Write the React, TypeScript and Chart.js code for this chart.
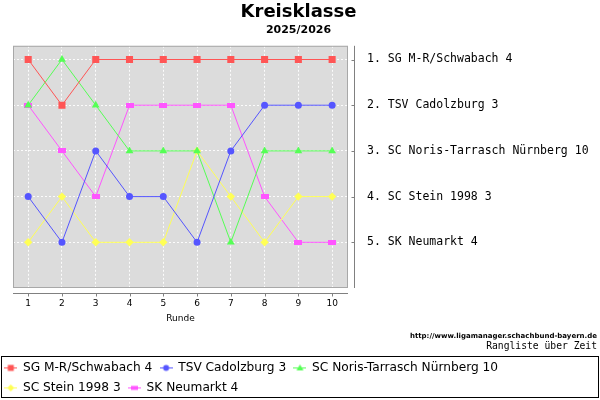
import { useEffect, useRef } from "react"
import { Chart, registerables } from "chart.js"

Chart.register(...registerables)

// Runden und Platzierungen pro Mannschaft
const rounds = [1, 2, 3, 4, 5, 6, 7, 8, 9, 10]
const teams = [
  "SG M-R/Schwabach 4",
  "TSV Cadolzburg 3",
  "SC Noris-Tarrasch Nürnberg 10",
  "SC Stein 1998 3",
  "SK Neumarkt 4",
]
const schwabach = [1, 2, 1, 1, 1, 1, 1, 1, 1, 1]
const cadolzburg = [4, 5, 3, 4, 4, 5, 3, 2, 2, 2]
const noris = [2, 1, 2, 3, 3, 3, 5, 3, 3, 3]
const stein = [5, 4, 5, 5, 5, 3, 4, 5, 4, 4]
const neumarkt = [2, 3, 4, 2, 2, 2, 2, 4, 5, 5]
const ranks = [schwabach, cadolzburg, noris, stein, neumarkt]

const colors = ["#ff5555", "#5555ff", "#55ff55", "#ffff55", "#ff55ff"]
const shapes = ["rect", "circle", "triangle", "rectRot", "flat"]
const radii = [5, 3.5, 4.5, 4.2, 4]

const SANS = "'DejaVu Sans', sans-serif"
const MONO = "'DejaVu Sans Mono', monospace"

function flatRect(color: string) {
  const c = document.createElement("canvas")
  c.width = 8
  c.height = 5
  const g = c.getContext("2d")!
  g.fillStyle = color
  g.fillRect(0, 0, 8, 5)
  return c
}

function legendIcon(color: string, shape: string) {
  const c = document.createElement("canvas")
  c.width = 13
  c.height = 9
  const g = c.getContext("2d")!
  g.fillStyle = color
  g.fillRect(0, 4, 13, 1)
  g.beginPath()
  if (shape === "rect") g.rect(3.5, 1.5, 6, 6)
  else if (shape === "circle") g.arc(6.5, 4.5, 3, 0, Math.PI * 2)
  else if (shape === "triangle") {
    g.moveTo(6.5, 1)
    g.lineTo(10, 7)
    g.lineTo(3, 7)
  } else if (shape === "rectRot") {
    g.moveTo(6.5, 1)
    g.lineTo(10, 4.5)
    g.lineTo(6.5, 8)
    g.lineTo(3, 4.5)
  } else g.rect(3, 2.5, 7, 4)
  g.closePath()
  g.fill()
  return c
}

// Hintergrund, Rahmen, Achsenlinien und Zusatztexte
const frame = {
  id: "frame",
  beforeDraw(chart: any) {
    const { ctx, chartArea: a } = chart
    ctx.save()
    ctx.fillStyle = "#dcdcdc"
    ctx.fillRect(a.left, a.top, a.width, a.height)
    ctx.restore()
  },
  beforeDatasetsDraw(chart: any) {
    const { ctx, chartArea: a, scales } = chart
    ctx.save()
    ctx.lineWidth = 1
    ctx.strokeStyle = "#a8a8a8"
    ctx.strokeRect(a.left + 0.5, a.top + 0.5, a.width - 1, a.height - 1)

    ctx.strokeStyle = "#808080"
    ctx.beginPath()
    const xy = a.bottom + 5.5
    ctx.moveTo(a.left, xy)
    ctx.lineTo(a.right, xy)
    scales.x.ticks.forEach((t: any) => {
      const px = Math.round(scales.x.getPixelForValue(t.value)) + 0.5
      ctx.moveTo(px, xy)
      ctx.lineTo(px, xy + 3)
    })
    const yx = a.right + 6.5
    ctx.moveTo(yx, a.top)
    ctx.lineTo(yx, a.bottom)
    scales.y.ticks.forEach((t: any) => {
      const py = Math.round(scales.y.getPixelForValue(t.value)) + 0.5
      ctx.moveTo(yx - 3, py)
      ctx.lineTo(yx, py)
    })
    ctx.stroke()
    ctx.restore()
  },
  afterDraw(chart: any) {
    const { ctx } = chart
    ctx.save()
    ctx.fillStyle = "#000"
    ctx.textAlign = "right"
    ctx.textBaseline = "middle"
    ctx.font = `bold 7px ${SANS}`
    ctx.fillText("http://www.ligamanager.schachbund-bayern.de", 597, 336)
    ctx.font = `9.7px ${MONO}`
    ctx.fillText("Rangliste über Zeit", 597, 346)
    ctx.strokeStyle = "#000"
    ctx.lineWidth = 1
    ctx.strokeRect(1.5, 356.5, 597, 41)
    ctx.restore()
  },
}

export default function App() {
  const chartRef = useRef<HTMLCanvasElement>(null)
  const chartInstance = useRef<Chart | null>(null)

  useEffect(() => {
    if (!chartRef.current) return
    document.body.style.margin = "0"

    if (chartInstance.current) {
      chartInstance.current.destroy()
    }

    const icons = teams.map((_, i) => legendIcon(colors[i], shapes[i]))
    const ctx = chartRef.current.getContext("2d")
    if (ctx) {
      chartInstance.current = new Chart(ctx, {
        type: "line",
        data: {
          datasets: teams.map((team, i) => ({
            label: team,
            data: rounds.map((r, j) => ({ x: r, y: ranks[i][j] })),
            borderColor: colors[i],
            backgroundColor: colors[i],
            borderWidth: 1,
            tension: 0,
            pointStyle: shapes[i] === "flat" ? flatRect(colors[i]) : (shapes[i] as any),
            pointRadius: radii[i],
            pointBorderWidth: 0,
            pointBackgroundColor: colors[i],
          })),
        },
        options: {
          animation: false,
          responsive: false,
          maintainAspectRatio: false,
          layout: { padding: { left: -3, right: 0, top: 0, bottom: -4 } },
          plugins: {
            title: {
              display: true,
              text: "Kreisklasse",
              color: "#000",
              font: { family: SANS, size: 18, weight: "bold" },
              padding: { top: 2, bottom: 0 },
            },
            subtitle: {
              display: true,
              text: "2025/2026",
              color: "#000",
              font: { family: SANS, size: 11, weight: "bold" },
              padding: { top: 0, bottom: 9 },
            },
            legend: {
              position: "bottom",
              align: "start",
              labels: {
                usePointStyle: true,
                pointStyleWidth: 12,
                padding: 7.8,
                color: "#000",
                font: { family: SANS, size: 12.2 },
                generateLabels: (chart: any) =>
                  chart.data.datasets.map((ds: any, i: number) => ({
                    text: ds.label,
                    fillStyle: colors[i],
                    strokeStyle: colors[i],
                    lineWidth: 0,
                    hidden: false,
                    datasetIndex: i,
                    pointStyle: icons[i],
                    fontColor: "#000",
                  })),
              },
            },
            tooltip: { enabled: false },
          },
          scales: {
            x: {
              type: "linear",
              min: 0.55,
              max: 10.47,
              afterBuildTicks: (s: any) => {
                s.ticks = rounds.map((r) => ({ value: r }))
              },
              afterFit: (s: any) => {
                s.height = 66
              },
              grid: { color: "rgba(255,255,255,0.9)", drawTicks: false },
              border: { display: false, dash: [2, 2] },
              ticks: {
                padding: 10.4,
                color: "#000",
                font: { family: SANS, size: 9 },
                callback: (v: any) => String(v),
              },
              title: {
                display: true,
                text: "Runde",
                color: "#000",
                font: { family: SANS, size: 9 },
                padding: { top: 0, bottom: 29.6 },
              },
            },
            y: {
              position: "right",
              reverse: true,
              min: 0.7,
              max: 6,
              afterBuildTicks: (s: any) => {
                s.ticks = teams.map((_, i) => ({ value: i + 1 }))
              },
              afterFit: (s: any) => {
                s.width = 252
              },
              grid: { color: "rgba(255,255,255,0.9)", drawTicks: false },
              border: { display: false, dash: [2, 2] },
              ticks: {
                padding: 19,
                color: "#000",
                font: { family: MONO, size: 11.5 },
                callback: (v: any) => `${v}. ${teams[v - 1]}`,
              },
            },
            yl: {
              position: "left",
              display: true,
              grid: { display: false },
              border: { display: false },
              ticks: { display: false },
              afterFit: (s: any) => {
                s.width = 16
              },
            },
          },
        },
        plugins: [frame],
      } as any)
    }

    return () => {
      if (chartInstance.current) {
        chartInstance.current.destroy()
        chartInstance.current = null
      }
    }
  }, [])

  return (
    <div style={{ width: 600, height: 400 }}>
      <canvas ref={chartRef} width={600} height={400} />
    </div>
  )
}
